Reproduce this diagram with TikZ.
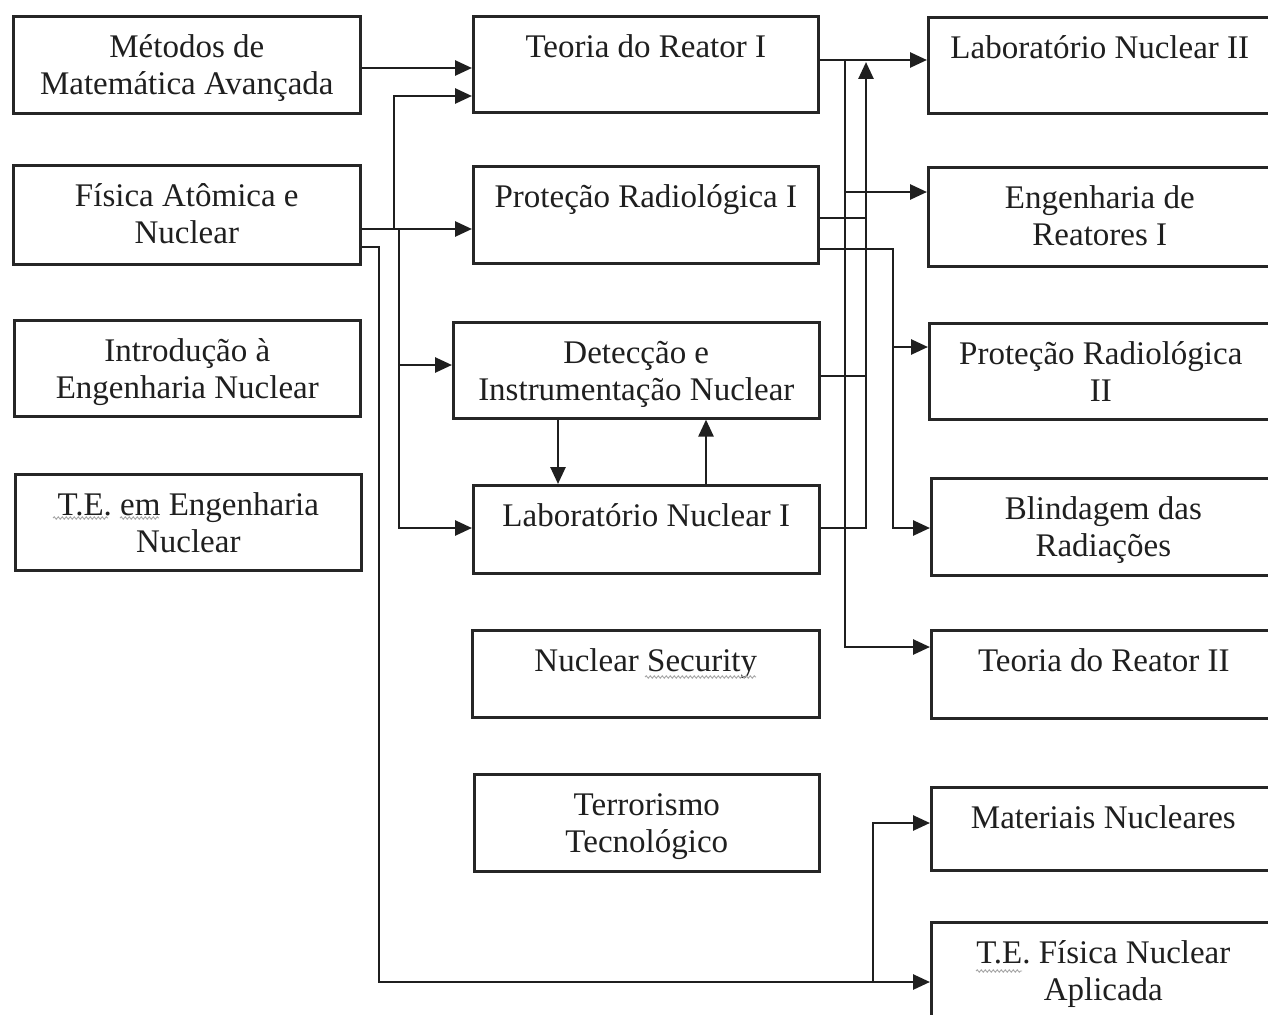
\documentclass[tikz,border=0pt]{standalone}
\usepackage{fontspec}
\setmainfont{Liberation Serif}
\usetikzlibrary{arrows.meta,decorations.pathmorphing}
\newcommand{\twol}[1]{\begin{tabular}[t]{@{}c@{}}#1\end{tabular}}
\begin{document}
\begin{tikzpicture}[x=1pt,y=-1pt,
  box/.style={draw=black!85, line width=2.6pt, inner sep=0pt, anchor=north west, text height=41pt, text=black!88, font=\fontsize{33}{37}\selectfont},
  conn/.style={line width=2.7pt, draw=black!88},
  arr/.style={conn, -{Triangle[length=17pt,width=15pt]}},
  squig/.style={gray!70, line width=0.9pt, decorate, decoration={snake, amplitude=1.2pt, segment length=4pt}}]
\fill[white] (0,0) rectangle (1268,1014);
\useasboundingbox (0,0) rectangle (1268,1014);
% column 1
\node[box, minimum width=347pt, text depth=56pt] (met) at (12,15) {\twol{Métodos de\\Matemática Avançada}};
\node[box, minimum width=347pt, text depth=58pt] (fis) at (12,164) {\twol{Física Atômica e\\Nuclear}};
\node[box, minimum width=346pt, text depth=55pt] (intro) at (13,319) {\twol{Introdução à\\Engenharia Nuclear}};
\node[box, minimum width=346pt, text depth=55pt] (tee) at (14,473) {\twol{T.E. em Engenharia\\Nuclear}};
% column 2
\node[box, minimum width=345pt, text depth=55pt] (tr1) at (472,15) {Teoria do Reator I};
\node[box, minimum width=345pt, text depth=56pt] (pr1) at (472,165) {Proteção Radiológica I};
\node[box, minimum width=366pt, text depth=55pt] (det) at (452,321) {\twol{Detecção e\\Instrumentação Nuclear}};
\node[box, minimum width=346pt, text depth=47pt] (lab1) at (472,484) {Laboratório Nuclear I};
\node[box, minimum width=347pt, text depth=46pt] (nsec) at (471,629) {Nuclear Security};
\node[box, minimum width=345pt, text depth=56pt] (terr) at (473,773) {\twol{Terrorismo\\Tecnológico}};
% column 3
\node[box, minimum width=343pt, text depth=55pt] (lab2) at (927,16) {Laboratório Nuclear II};
\node[box, minimum width=343pt, text depth=58pt] (eng) at (927,166) {\twol{Engenharia de\\Reatores I}};
\node[box, minimum width=343pt, text depth=55pt] (pr2) at (928,322) {\twol{Proteção Radiológica\\II}};
\node[box, minimum width=344pt, text depth=56pt] (blind) at (930,477) {\twol{Blindagem das\\Radiações}};
\node[box, minimum width=345pt, text depth=47pt] (tr2) at (930,629) {Teoria do Reator II};
\node[box, minimum width=344pt, text depth=42pt] (mat) at (930,786) {Materiais Nucleares};
\node[box, minimum width=344pt, text depth=59pt] (tef) at (930,921) {\twol{T.E. Física Nuclear\\Aplicada}};
% routing levels
\coordinate (h60) at (0,60);
\coordinate (h62) at (0,62);
\coordinate (h68) at (0,68);
\coordinate (h96) at (0,96);
\coordinate (h192) at (0,192);
\coordinate (h218) at (0,218);
\coordinate (h229) at (0,229);
\coordinate (h247) at (0,247);
\coordinate (h249) at (0,249);
\coordinate (h347) at (0,347);
\coordinate (h365) at (0,365);
\coordinate (h376) at (0,376);
\coordinate (h528) at (0,528);
\coordinate (h647) at (0,647);
\coordinate (h823) at (0,823);
\coordinate (h982) at (0,982);
\coordinate (v379) at (379,0);
\coordinate (v394) at (394,0);
\coordinate (v399) at (399,0);
\coordinate (v558) at (558,0);
\coordinate (v706) at (706,0);
\coordinate (v845) at (845,0);
\coordinate (v866) at (866,0);
\coordinate (v873) at (873,0);
\coordinate (v893) at (893,0);
% left connectors
\draw[arr] (met.east |- h68) -- (tr1.west |- h68);
\draw[arr] (fis.east |- h229) -- (pr1.west |- h229);
\draw[arr] (v394 |- h229) -- (v394 |- h96) -- (tr1.west |- h96);
\draw[arr] (v399 |- h229) -- (v399 |- h365) -- (det.west |- h365);
\draw[arr] (v399 |- h365) -- (v399 |- h528) -- (lab1.west |- h528);
\draw[arr] (fis.east |- h247) -- (v379 |- h247) -- (v379 |- h982) -- (tef.west |- h982);
\draw[arr] (v873 |- h982) -- (v873 |- h823) -- (mat.west |- h823);
% middle
\draw[arr] (det.south -| v558) -- (lab1.north -| v558);
\draw[arr] (lab1.north -| v706) -- (det.south -| v706);
% right connectors
\draw[arr] (tr1.east |- h60) -- (lab2.west |- h60);
\draw[arr] (v845 |- h60) -- (v845 |- h192) -- (eng.west |- h192);
\draw[arr] (v845 |- h192) -- (v845 |- h647) -- (tr2.west |- h647);
\draw[conn] (pr1.east |- h218) -- (v866 |- h218);
\draw[conn] (det.east |- h376) -- (v866 |- h376);
\draw[arr] (lab1.east |- h528) -- (v866 |- h528) -- (v866 |- h62);
\draw[arr] (pr1.east |- h249) -- (v893 |- h249) -- (v893 |- h528) -- (blind.west |- h528);
\draw[arr] (v893 |- h347) -- (pr2.west |- h347);
% spell-check underlines
\draw[squig] (53,518) -- (108,518);
\draw[squig] (120,518) -- (159,518);
\draw[squig] (645,677) -- (756,677);
\draw[squig] (976,971) -- (1022,971);
\end{tikzpicture}
\end{document}
